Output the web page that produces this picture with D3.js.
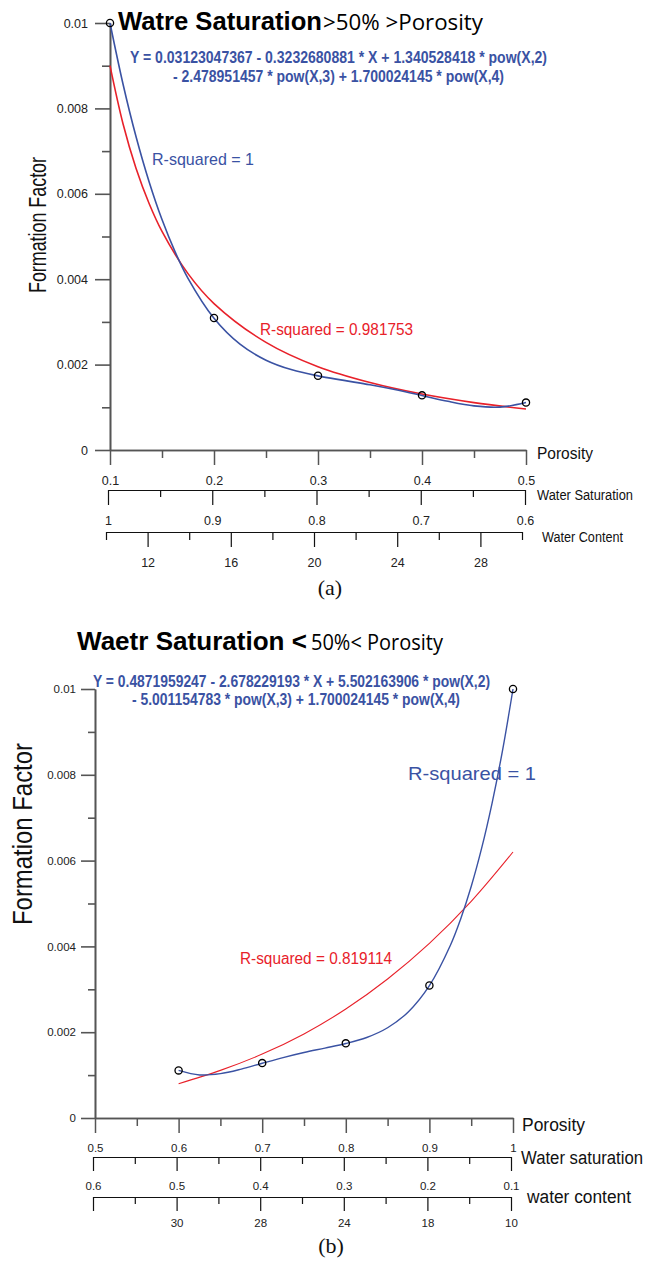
<!DOCTYPE html>
<html>
<head>
<meta charset="utf-8">
<script src="https://cdn.jsdelivr.net/npm/d3@7"></script>
<style>
body { margin: 0; background: #fff; }
svg { display: block; }
</style>
</head>
<body>
<svg id="chart" width="653" height="1262"></svg>
<script>
// ---------- panel (a): water saturation > 50% > porosity
var porosityA = [0.1, 0.2, 0.3, 0.4, 0.5];
var formationA = [0.0100, 0.00309, 0.00174, 0.00128, 0.00111];

// blue curve (R-squared = 1)
var polyA_x = [0.1, 0.1125, 0.125, 0.1375, 0.15, 0.1625, 0.175, 0.2, 0.225, 0.25, 0.275, 0.3, 0.325, 0.35, 0.375, 0.4, 0.425, 0.45, 0.475, 0.5];
var polyA_y = [0.0100, 0.008572, 0.007341, 0.006289, 0.005396, 0.004646, 0.004021, 0.003086, 0.002479, 0.002104, 0.001877, 0.001736, 0.001630, 0.001527, 0.001409, 0.001276, 0.001140, 0.001034, 0.001004, 0.001111];
// red curve (R-squared = 0.981753)
var fitA_x = [0.1, 0.1125, 0.125, 0.1375, 0.15, 0.175, 0.2, 0.25, 0.3, 0.35, 0.4, 0.45, 0.5];
var fitA_y = [0.0090, 0.00764, 0.00660, 0.00578, 0.00512, 0.00413, 0.00343, 0.00252, 0.00195, 0.00158, 0.00131, 0.00111, 0.00096];

var porTicksA = [0.1, 0.2, 0.3, 0.4, 0.5];
var porMinorA = [0.15, 0.25, 0.35, 0.45];
var satTicksA = [1, 0.9, 0.8, 0.7, 0.6];
var satMinorA = [0.95, 0.85, 0.75, 0.65];
var wcTicksA = [12, 16, 20, 24, 28];
var wcMinorA = [10, 14, 18, 22, 26, 30];

// ---------- panel (b): water saturation < 50% < porosity
var porosityB = [0.6, 0.7, 0.8, 0.9, 1.0];
var formationB = [0.00111, 0.00128, 0.00174, 0.00309, 0.0100];

var polyB_x = [0.6, 0.625, 0.65, 0.675, 0.7, 0.725, 0.75, 0.775, 0.8, 0.825, 0.85, 0.875, 0.9, 0.925, 0.9375, 0.95, 0.9625, 0.975, 0.9875, 1.0];
var polyB_y = [0.001111, 0.001004, 0.001034, 0.001140, 0.001276, 0.001409, 0.001527, 0.001630, 0.001736, 0.001877, 0.002104, 0.002479, 0.003086, 0.004021, 0.004646, 0.005396, 0.006289, 0.007341, 0.008572, 0.0100];
var fitB_x = [0.6, 0.65, 0.7, 0.75, 0.8, 0.85, 0.9, 0.95, 1.0];
var fitB_y = [0.00080, 0.00111, 0.00149, 0.00196, 0.00254, 0.00324, 0.00407, 0.00505, 0.00620];

var porTicksB = [0.5, 0.6, 0.7, 0.8, 0.9, 1];
var porMinorB = [0.55, 0.65, 0.75, 0.85, 0.95];
var satTicksB = [0.6, 0.5, 0.4, 0.3, 0.2, 0.1];
var satMinorB = [0.55, 0.45, 0.35, 0.25, 0.15];
var wcLabelsB = ["", "30", "28", "24", "18", "10"];

var yTicks = [0, 0.002, 0.004, 0.006, 0.008, 0.01];
var yMinor = [0.001, 0.003, 0.005, 0.007, 0.009];

var eqA = ["Y = 0.03123047367 - 0.3232680881 * X + 1.340528418 * pow(X,2)",
           "- 2.478951457 * pow(X,3) + 1.700024145 * pow(X,4)"];
var eqB = ["Y = 0.4871959247 - 2.678229193 * X + 5.502163906 * pow(X,2)",
           "- 5.001154783 * pow(X,3) + 1.700024145 * pow(X,4)"];

var BLUE = "#3a52a3", RED = "#e8212a", SANS = "Liberation Sans, Arial, sans-serif";
var svg = d3.select("#chart");

var yFmt = function (d) { return d === 0 ? "0" : String(+d.toFixed(3)); };

function drawAxis(g, axisFn, scale, major, minor, bigLen, smallLen, fmt, pad, fontSize, color, sw) {
    g.append("g").call(axisFn(scale).tickValues(minor).tickSize(smallLen).tickSizeOuter(0).tickFormat(""));
    g.append("g").call(axisFn(scale).tickValues(major).tickSize(bigLen).tickSizeOuter(0).tickPadding(pad).tickFormat(fmt));
    g.selectAll("path.domain").attr("stroke", color).attr("stroke-width", sw);
    g.selectAll(".tick line").attr("stroke", color).attr("stroke-width", sw);
    g.selectAll(".tick text").attr("fill", "#222").attr("font-size", fontSize).attr("font-family", SANS);
}

function label(x, y, str, size, opt) {
    opt = opt || {};
    var t = svg.append("text").attr("x", x).attr("y", y).attr("font-size", size)
        .attr("font-weight", opt.weight || "normal").attr("fill", opt.fill || "#111")
        .attr("font-family", opt.family || SANS).text(str);
    if (opt.len) t.attr("textLength", opt.len).attr("lengthAdjust", "spacingAndGlyphs");
    if (opt.anchor) t.attr("text-anchor", opt.anchor);
    if (opt.rotate) t.attr("transform", "rotate(-90," + x + "," + y + ")");
    return t;
}

function curve(x, y, xs, ys, color, w) {
    var line = d3.line().x(function (d) { return x(d[0]); }).y(function (d) { return y(d[1]); })
        .curve(d3.curveCatmullRom.alpha(0.5));
    svg.append("path").datum(d3.zip(xs, ys)).attr("d", line)
        .attr("fill", "none").attr("stroke", color).attr("stroke-width", w);
}

function points(x, y, xs, ys) {
    svg.append("g").selectAll("circle").data(d3.zip(xs, ys)).enter().append("circle")
        .attr("cx", function (d) { return x(d[0]); }).attr("cy", function (d) { return y(d[1]); })
        .attr("r", 3.6).attr("fill", "none").attr("stroke", "#000").attr("stroke-width", 1.3);
}

// ================= (a) =================
var xA = d3.scaleLinear().domain([0.1, 0.5]).range([110, 526]);
var yA = d3.scaleLinear().domain([0, 0.01]).range([450, 23]);
var satA = d3.scaleLinear().domain([1, 0.6]).range([108, 525]);
var wcA = d3.scaleLinear().domain([10, 30]).range([106, 522]);

drawAxis(svg.append("g").attr("transform", "translate(110,0)"), d3.axisLeft, yA, yTicks, yMinor, 15, 8, yFmt, 7, 12.5, "#555", 1.6);
drawAxis(svg.append("g").attr("transform", "translate(0,450)"), d3.axisBottom, xA, porTicksA, porMinorA, 15, 8, d3.format(""), 11, 12.5, "#555", 1.5);
drawAxis(svg.append("g").attr("transform", "translate(0,490)"), d3.axisBottom, satA, satTicksA, satMinorA, 15, 7, d3.format(""), 11, 12.5, "#111", 1.2);
drawAxis(svg.append("g").attr("transform", "translate(0,532)"), d3.axisBottom, wcA, wcTicksA, wcMinorA, 15, 8, d3.format(""), 11, 12.5, "#111", 1.2);

curve(xA, yA, fitA_x, fitA_y, RED, 1.6);
curve(xA, yA, polyA_x, polyA_y, BLUE, 1.6);
points(xA, yA, porosityA, formationA);

label(118, 30, "Watre Saturation", 26, { weight: "bold", len: 204, fill: "#000" });
label(323, 30, ">50% >Porosity", 21, { family: "Open Sans, sans-serif", len: 160, fill: "#000" });
label(130, 63, eqA[0], 16, { weight: "bold", fill: BLUE, len: 417 });
label(173, 82, eqA[1], 16, { weight: "bold", fill: BLUE, len: 331 });
label(152, 165, "R-squared = 1", 17, { fill: BLUE, len: 102 });
label(260, 335, "R-squared = 0.981753", 16, { fill: RED, len: 153 });
label(46, 225, "Formation Factor", 23, { anchor: "middle", rotate: true, len: 136 });
label(537, 459, "Porosity", 16, { len: 56 });
label(537, 500, "Water Saturation", 14, { len: 96 });
label(542, 542, "Water Content", 14, { len: 81 });
label(330, 595, "(a)", 22, { family: "Liberation Serif, serif", anchor: "middle" });

// ================= (b) =================
var xB = d3.scaleLinear().domain([0.5, 1]).range([95, 513]);
var yB = d3.scaleLinear().domain([0, 0.01]).range([1118, 689]);
var satB = d3.scaleLinear().domain([0.6, 0.1]).range([93, 511]);

drawAxis(svg.append("g").attr("transform", "translate(95,0)"), d3.axisLeft, yB, yTicks, yMinor, 14, 7, yFmt, 5, 11.5, "#555", 1.6);
drawAxis(svg.append("g").attr("transform", "translate(0,1118)"), d3.axisBottom, xB, porTicksB, porMinorB, 15, 8, d3.format(""), 11, 11.5, "#555", 1.5);
drawAxis(svg.append("g").attr("transform", "translate(0,1157)"), d3.axisBottom, satB, satTicksB, satMinorB, 14, 7, d3.format(""), 11, 11.5, "#111", 1.2);
drawAxis(svg.append("g").attr("transform", "translate(0,1197)"), d3.axisBottom, satB, satTicksB, satMinorB, 14, 7,
    function (d, i) { return wcLabelsB[i]; }, 8, 11.5, "#111", 1.2);

curve(xB, yB, fitB_x, fitB_y, RED, 1.1);
curve(xB, yB, polyB_x, polyB_y, BLUE, 1.4);
points(xB, yB, porosityB, formationB);

label(77, 650, "Waetr Saturation <", 26, { weight: "bold", len: 230, fill: "#000" });
label(311, 650, "50%< Porosity", 21, { family: "Open Sans, sans-serif", len: 132, fill: "#000" });
label(93, 687, eqB[0], 16, { weight: "bold", fill: BLUE, len: 397 });
label(132, 705, eqB[1], 16, { weight: "bold", fill: BLUE, len: 328 });
label(408, 780, "R-squared = 1", 19, { fill: BLUE, len: 128 });
label(240, 964, "R-squared = 0.819114", 16, { fill: RED, len: 152 });
label(32, 834, "Formation Factor", 27, { anchor: "middle", rotate: true, len: 182 });
label(522, 1131, "Porosity", 18, { len: 63 });
label(521, 1164, "Water saturation", 18, { len: 122 });
label(527, 1203, "water content", 18, { len: 104 });
label(331, 1253, "(b)", 22, { family: "Liberation Serif, serif", anchor: "middle" });
</script>
</body>
</html>
